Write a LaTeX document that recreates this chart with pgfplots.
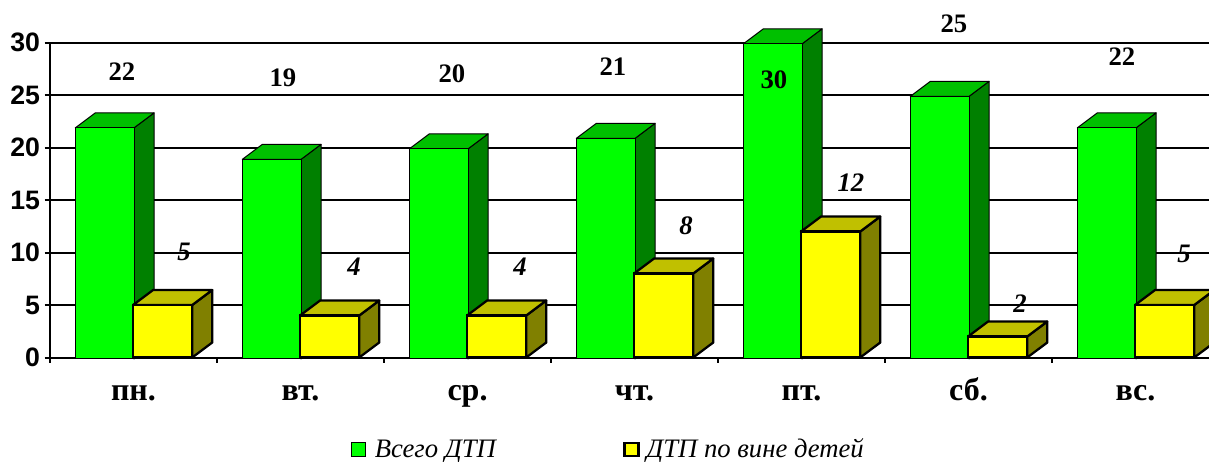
\documentclass[border=0pt]{standalone}
\usepackage{pgfplots}
\pgfplotsset{compat=1.18}
\usepackage{pgfplotstable}
\usepackage{fontspec}
\setmainfont{Liberation Serif}
\newfontfamily\arialb{Liberation Sans}[BoldFont={Liberation Sans Bold}]
\definecolor{gF}{HTML}{00FF00}\definecolor{gT}{HTML}{00C000}\definecolor{gS}{HTML}{008000}
\definecolor{yF}{HTML}{FFFF00}\definecolor{yT}{HTML}{C0C000}\definecolor{yS}{HTML}{808000}
\pgfplotstableread{
x total children
0 22 5
1 19 4
2 20 4
3 21 8
4 30 12
5 25 2
6 22 5
}\dtp
% top and side of a 3D bar: #1 category, #2 value, #3 left offset, #4 right offset, #5 top, #6 side, #7 line width, #8 shift
\newcommand\cube[8]{%
  \pgfmathsetmacro\xa{#1+#3}\pgfmathsetmacro\xb{#1+#4}%
  \pgfmathsetmacro\xc{#1+#3+0.12}\pgfmathsetmacro\xd{#1+#4+0.12}%
  \pgfmathsetmacro\yt{#2+1.43}\pgfmathsetmacro\ys{1.43}%
  \addplot[forget plot,yshift=#8,fill=#6,draw=black,line width=#7,line join=round] coordinates {(\xb,0) (\xd,\ys) (\xd,\yt) (\xb,#2)} --cycle;
  \addplot[forget plot,yshift=#8,fill=#5,draw=black,line width=#7,line join=round] coordinates {(\xa,#2) (\xc,\yt) (\xd,\yt) (\xb,#2)} --cycle;
}
\newcommand\cg[2]{\cube{#1}{#2}{-0.3485}{0.003}{gT}{gS}{0.75pt}{-1pt}}
\newcommand\cy[2]{\cube{#1}{#2}{-0.003}{0.3515}{yT}{yS}{1.7pt}{0pt}}
\begin{document}
\begin{tikzpicture}
\useasboundingbox (0,0) rectangle (906.75pt,345.75pt);
\begin{axis}[
  at={(37.5pt,77.6pt)},anchor=south west,
  scale only axis,width=869.25pt,height=236.25pt,
  clip=false,
  xmin=-0.5,xmax=6.4401,ymin=0,ymax=30,
  axis x line=bottom,axis y line=left,
  axis line style={-,line width=1.5pt,black},
  tick align=outside,
  ytick={0,5,...,30},
  xtick={0,...,6},
  xticklabels={пн.,вт.,ср.,чт.,пт.,сб.,вс.},
  minor xtick={-0.5,0.5,1.5,2.5,3.5,4.5,5.5},
  major x tick style={draw=none},
  minor x tick style={black,line width=1.5pt},
  major y tick style={black,line width=1.5pt},
  major tick length=4pt,minor tick length=4pt,
  ymajorgrids,
  major grid style={black,line width=1.5pt},
  /pgf/number format/assume math mode=true,
  yticklabel style={font=\fontsize{20pt}{22pt}\selectfont\arialb\bfseries,xshift=0pt},
  xticklabel style={font=\fontsize{24pt}{26pt}\selectfont\bfseries,anchor=base,yshift=-28pt},
  legend style={at={(0.2597,-0.2915)},anchor=west,draw=none,fill=none,
    font=\fontsize{20pt}{22pt}\selectfont\itshape,legend columns=2,
    /tikz/every even column/.style={column sep=93.5pt},
    inner sep=0pt,outer sep=0pt},
  legend cell align=left,
]
\cg{0}{22}\cg{1}{19}\cg{2}{20}\cg{3}{21}\cg{4}{30}\cg{5}{25}\cg{6}{22}
\addplot[forget plot,yshift=-1pt,ybar,bar width=44.25pt,bar shift=-21.65pt,fill=gF,draw=black,line width=0.75pt] table[x=x,y=total] {\dtp};
\cy{0}{5}\cy{1}{4}\cy{2}{4}\cy{3}{8}\cy{4}{12}\cy{5}{2}\cy{6}{5}
\addplot[forget plot,ybar,bar width=44.4pt,bar shift=21.8pt,fill=yF,draw=black,line width=1.7pt] table[x=x,y=children] {\dtp};
\addlegendimage{legend image code/.code={\path[draw=none,fill=none] (0pt,0pt) rectangle (15.5pt,1pt);\draw[fill=gF,draw=black,line width=0.75pt] (0pt,-5pt) rectangle (10.5pt,5pt);}}
\addlegendentry{Всего ДТП}
\addlegendimage{legend image code/.code={\path[draw=none,fill=none] (0pt,0pt) rectangle (14.5pt,1pt);\draw[fill=yF,draw=black,line width=1.7pt] (0pt,-5pt) rectangle (10.5pt,5pt);}}
\addlegendentry{ДТП по вине детей}
\begin{scope}[every node/.style={font=\fontsize{20pt}{22pt}\selectfont\bfseries}]
\node at (axis cs:-0.069,27.19) {22};
\node at (axis cs:0.895,26.62) {19};
\node at (axis cs:1.907,27.0) {20};
\node at (axis cs:2.871,27.67) {21};
\node at (axis cs:3.835,26.43) {30};
\node at (axis cs:4.913,31.76) {25};
\node at (axis cs:5.919,28.62) {22};
\end{scope}
\begin{scope}[every node/.style={font=\fontsize{20pt}{22pt}\selectfont\bfseries\itshape}]
\node at (axis cs:0.302,10.05) {5};
\node at (axis cs:1.320,8.62) {4};
\node at (axis cs:2.314,8.62) {4};
\node at (axis cs:3.308,12.52) {8};
\node at (axis cs:4.296,16.62) {12};
\node at (axis cs:5.308,5.10) {2};
\node at (axis cs:6.290,9.86) {5};
\end{scope}
\end{axis}
\end{tikzpicture}
\end{document}
